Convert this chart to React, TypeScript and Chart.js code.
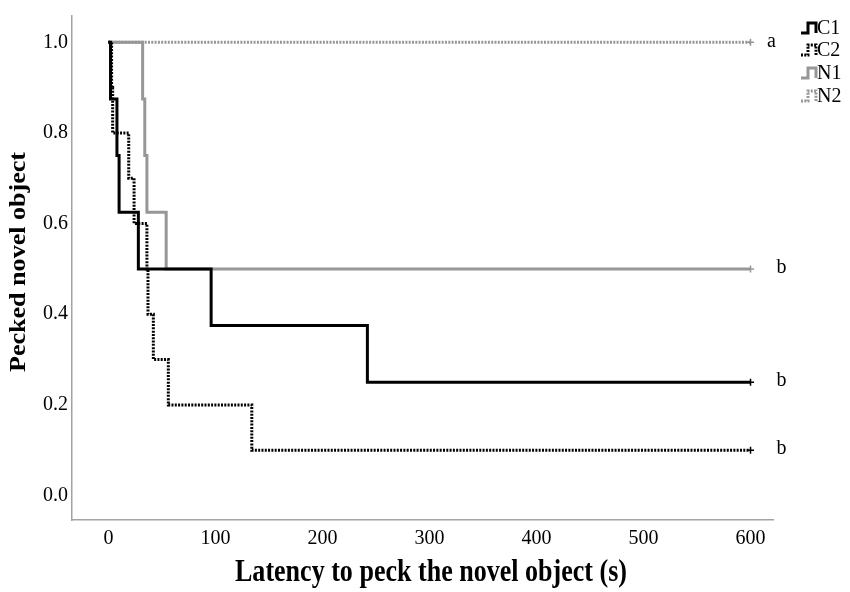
import React, { useEffect, useRef } from 'react';
import { Chart, registerables } from 'chart.js';

Chart.register(...registerables);

// ---- data ----
const SERIES_NAMES = ['C1', 'C2', 'N1', 'N2'];

const C1_TIMES = [0, 2, 8, 10, 28, 96, 242, 600];
const C1_SURV = [1.0, 0.875, 0.75, 0.625, 0.5, 0.375, 0.25, 0.25];

const C2_TIMES = [0, 3, 4, 19, 24, 36, 37, 42, 56, 134, 600];
const C2_SURV = [1.0, 0.9, 0.8, 0.7, 0.6, 0.5, 0.4, 0.3, 0.2, 0.1, 0.1];

const N1_TIMES = [0, 32, 34, 36, 54, 600];
const N1_SURV = [1.0, 0.875, 0.75, 0.625, 0.5, 0.5];

const N2_TIMES = [0, 600];
const N2_SURV = [1.0, 1.0];

const GROUP_LETTERS = ['b', 'b', 'b', 'a'];

const X_TICKS = [0, 100, 200, 300, 400, 500, 600];
const Y_TICKS = [0.0, 0.2, 0.4, 0.6, 0.8, 1.0];

const X_TITLE = 'Latency to peck the novel object (s)';
const Y_TITLE = 'Pecked novel object';

// ---- styles ----
const BLACK = '#000000';
const GREY = '#979797';
const AXIS = '#a3a3a3';
const SERIF = '"Liberation Serif", "Times New Roman", serif';
const DOT = [2, 1.3];
const LINE_W = 3;

const SERIES = [
  { times: C1_TIMES, surv: C1_SURV, color: BLACK, dash: [] as number[] },
  { times: C2_TIMES, surv: C2_SURV, color: BLACK, dash: DOT },
  { times: N1_TIMES, surv: N1_SURV, color: GREY, dash: [] as number[] },
  { times: N2_TIMES, surv: N2_SURV, color: GREY, dash: DOT },
];

function fitText(
  ctx: CanvasRenderingContext2D,
  text: string,
  x: number,
  y: number,
  width: number,
  rotate: boolean,
) {
  const w = ctx.measureText(text).width;
  const s = width / w;
  ctx.save();
  ctx.translate(x, y);
  if (rotate) ctx.rotate(-Math.PI / 2);
  ctx.scale(s, 1);
  ctx.fillText(text, 0, 0);
  ctx.restore();
}

const textPlugin = {
  id: 'kmText',
  afterDraw(chart: any) {
    const ctx = chart.ctx as CanvasRenderingContext2D;
    const xs = chart.scales.x;
    const ys = chart.scales.y;
    ctx.save();

    // group letters at the end of each curve
    ctx.fillStyle = '#000';
    ctx.font = `20px ${SERIF}`;
    ctx.textAlign = 'center';
    ctx.textBaseline = 'middle';
    SERIES.forEach((s, i) => {
      const t = s.times[s.times.length - 1];
      const v = s.surv[s.surv.length - 1];
      const letter = GROUP_LETTERS[i];
      const dx = letter === 'a' ? 21 : 31;
      ctx.fillText(letter, xs.getPixelForValue(t) + dx, ys.getPixelForValue(v) - 1);
    });

    // legend
    const rowsY = [28, 50, 73, 96];
    SERIES.forEach((s, i) => {
      const cy = rowsY[i];
      ctx.save();
      ctx.strokeStyle = s.color;
      ctx.lineWidth = 3;
      ctx.setLineDash(s.dash);
      ctx.beginPath();
      ctx.moveTo(801, cy + 5);
      ctx.lineTo(808, cy + 5);
      ctx.lineTo(808, cy - 5);
      ctx.lineTo(816, cy - 5);
      ctx.lineTo(816, cy + 5);
      ctx.stroke();
      ctx.restore();
      ctx.fillStyle = '#000';
      ctx.font = `20px ${SERIF}`;
      ctx.textAlign = 'left';
      ctx.textBaseline = 'middle';
      ctx.fillText(SERIES_NAMES[i], 817, cy + 1);
    });

    // axis titles
    ctx.fillStyle = '#000';
    ctx.textAlign = 'center';
    ctx.textBaseline = 'alphabetic';
    ctx.font = `bold 32px ${SERIF}`;
    fitText(ctx, X_TITLE, 431, 581, 392, false);
    ctx.font = `bold 23px ${SERIF}`;
    fitText(ctx, Y_TITLE, 25, 262, 220, true);

    ctx.restore();
  },
};

export default function App() {
  const ref = useRef<HTMLCanvasElement>(null);

  useEffect(() => {
    document.body.style.margin = '0';
    const canvas = ref.current;
    if (!canvas) return;

    const datasets = SERIES.map((s, i) => ({
      label: SERIES_NAMES[i],
      data: s.times.map((t, k) => ({ x: t, y: s.surv[k] })),
      borderColor: s.color,
      backgroundColor: s.color,
      borderWidth: LINE_W,
      borderDash: s.dash,
      borderCapStyle: 'butt' as const,
      stepped: 'before' as const,
      fill: false,
      pointStyle: 'cross' as const,
      pointRadius: s.times.map((_, k) => (k === s.times.length - 1 ? 3.5 : 0)),
      pointBorderColor: s.color,
      pointBorderWidth: 1.5,
      pointHoverRadius: 0,
    }));

    const chart = new Chart(canvas, {
      type: 'line',
      data: { datasets },
      options: {
        responsive: false,
        animation: false,
        events: [],
        layout: { padding: { left: 0, top: 4, right: 77, bottom: 0 } },
        plugins: {
          legend: { display: false },
          tooltip: { enabled: false },
        },
        scales: {
          x: {
            type: 'linear',
            min: -34,
            max: 621,
            afterBuildTicks: (scale: any) => {
              scale.ticks = X_TICKS.map((v) => ({ value: v }));
            },
            afterFit: (scale: any) => {
              scale.height = 72;
            },
            grid: { display: false, drawTicks: false },
            border: { display: true, color: AXIS, width: 1.5 },
            ticks: {
              color: '#000',
              font: { family: SERIF, size: 20 },
              padding: 7,
              maxRotation: 0,
              autoSkip: false,
            },
          },
          y: {
            type: 'linear',
            min: -0.054,
            max: 1.058,
            afterBuildTicks: (scale: any) => {
              scale.ticks = Y_TICKS.map((v) => ({ value: v }));
            },
            afterFit: (scale: any) => {
              scale.width = 72;
            },
            grid: { display: false, drawTicks: false },
            border: { display: true, color: AXIS, width: 1.5 },
            ticks: {
              color: '#000',
              font: { family: SERIF, size: 20 },
              padding: 4,
              autoSkip: false,
              callback: (v: any) => Number(v).toFixed(1),
            },
          },
        },
      },
      plugins: [textPlugin],
    });

    return () => chart.destroy();
  }, []);

  return (
    <div style={{ width: 850, height: 592, background: '#fff' }}>
      <canvas ref={ref} width={850} height={592} style={{ display: 'block' }} />
    </div>
  );
}
